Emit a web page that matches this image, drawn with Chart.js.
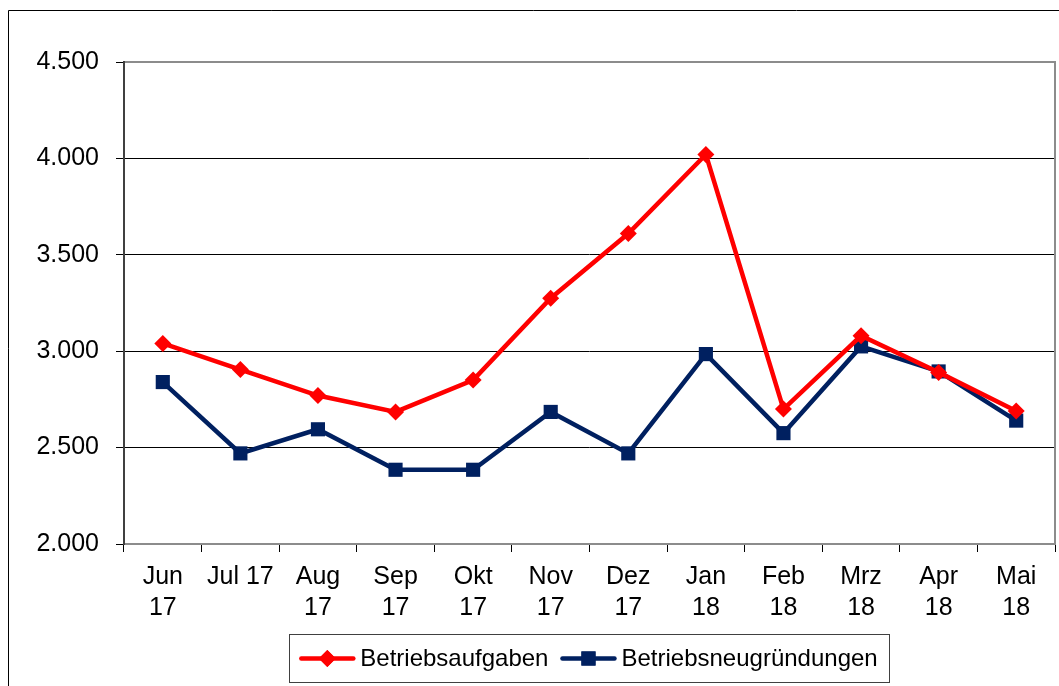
<!DOCTYPE html>
<html>
<head>
<meta charset="utf-8">
<script src="https://cdn.jsdelivr.net/npm/chart.js@4/dist/chart.umd.min.js"></script>
<style>
  html, body { margin: 0; padding: 0; background: #fff; overflow: hidden; }
  #wrap { width: 1059px; height: 686px; position: relative; }
</style>
</head>
<body>
<div id="wrap"><canvas id="chart"></canvas></div>
<script>
// Data
const months = [['Jun', '17'], 'Jul 17', ['Aug', '17'], ['Sep', '17'], ['Okt', '17'], ['Nov', '17'], ['Dez', '17'], ['Jan', '18'], ['Feb', '18'], ['Mrz', '18'], ['Apr', '18'], ['Mai', '18']];
const aufgaben = [3040, 2905, 2770, 2685, 2850, 3275, 3610, 4020, 2700, 3080, 2890, 2690];
const neugruendungen = [2840, 2470, 2595, 2385, 2385, 2685, 2470, 2985, 2575, 3025, 2895, 2640];
const yMin = 2000, yMax = 4500, yStep = 500;

const RED = '#ff0000';
const NAVY = '#002060';
const FONT = "'Liberation Sans', Arial, sans-serif";

const fmtDe = v => String(v).replace(/\B(?=(\d{3})+(?!\d))/g, '.');

// frame, plot border and legend box
const decor = {
    id: 'decor',
    beforeDraw(chart) {
        const c = chart.ctx;
        c.save();
        c.strokeStyle = '#000';
        c.lineWidth = 1;
        c.beginPath();
        c.moveTo(8.5, 686); c.lineTo(8.5, 10.5); c.lineTo(1059, 10.5);
        c.stroke();
        c.restore();
    },
    afterDraw(chart) {
        const c = chart.ctx, a = chart.chartArea;
        c.save();
        // plot border
        c.lineWidth = 2;
        c.strokeStyle = '#8c8c8c';
        c.beginPath();
        c.moveTo(a.left, a.top); c.lineTo(a.right, a.top); c.lineTo(a.right, a.bottom); c.lineTo(a.left, a.bottom);
        c.stroke();
        c.strokeStyle = '#404040';
        c.beginPath();
        c.moveTo(a.left, a.top - 1); c.lineTo(a.left, a.bottom + 1);
        c.stroke();

        // legend
        c.font = '24px ' + FONT;
        const items = [
            { label: chart.data.datasets[0].label, color: RED, style: 'rectRot', r: 8.5 },
            { label: chart.data.datasets[1].label, color: NAVY, style: 'rect', r: 10 }
        ];
        const lineLen = 52, gapText = 7, gapItem = 14, pad = 12;
        let total = 0;
        items.forEach((it, i) => { it.w = c.measureText(it.label).width; total += lineLen + gapText + it.w + (i ? gapItem : 0); });
        const cx = (a.left + a.right) / 2;
        const boxTop = 634.5, boxH = 48, y = boxTop + boxH / 2;
        const boxLeft = Math.round(cx - total / 2 - pad) + 0.5;
        c.lineWidth = 1;
        c.strokeStyle = '#404040';
        c.strokeRect(boxLeft, boxTop, Math.round(total + 2 * pad), boxH);
        let x = cx - total / 2;
        items.forEach((it, i) => {
            if (i) x += gapItem;
            c.strokeStyle = it.color; c.fillStyle = it.color;
            c.lineWidth = 4.5; c.lineCap = 'round';
            c.beginPath(); c.moveTo(x, y); c.lineTo(x + lineLen, y); c.stroke();
            Chart.helpers.drawPoint(c, { pointStyle: it.style, radius: it.r, borderWidth: 0, rotation: 0 }, x + lineLen / 2, y);
            c.fill();
            x += lineLen + gapText;
            c.fillStyle = '#000'; c.textBaseline = 'middle'; c.textAlign = 'left';
            c.fillText(it.label, x, y + 1);
            x += it.w;
        });
        c.restore();
    }
};

new Chart(document.getElementById('chart'), {
    type: 'line',
    data: {
        labels: months,
        datasets: [
            { label: 'Betriebsaufgaben', data: aufgaben, borderColor: RED, backgroundColor: RED, borderWidth: 4.5,
              pointStyle: 'rectRot', pointRadius: 8.5, pointBorderWidth: 0, tension: 0 },
            { label: 'Betriebsneugründungen', data: neugruendungen, borderColor: NAVY, backgroundColor: NAVY, borderWidth: 4.5,
              pointStyle: 'rect', pointRadius: 10, pointBorderWidth: 0, tension: 0 }
        ]
    },
    options: {
        responsive: true, maintainAspectRatio: false, animation: false,
        layout: { autoPadding: false, padding: { left: 0, top: 62, right: 4, bottom: 0 } },
        plugins: { legend: { display: false }, tooltip: { enabled: false } },
        scales: {
            x: {
                offset: true,
                grid: { offset: true, drawOnChartArea: false, drawTicks: true, tickLength: 8, tickColor: '#000', tickWidth: 1 },
                border: { display: false },
                ticks: { color: '#000', font: { family: FONT, size: 25, lineHeight: 1.22 }, padding: 10, maxRotation: 0, autoSkip: false },
                afterFit(s) { s.height = 142; s.paddingLeft = 0; s.paddingRight = 0; }
            },
            y: {
                min: yMin, max: yMax,
                grid: { color: '#000', lineWidth: 1, tickLength: 8, tickColor: '#000' },
                border: { display: false },
                ticks: { stepSize: yStep, color: '#000', font: { family: FONT, size: 25 }, padding: 17, callback: v => fmtDe(v) },
                afterFit(s) { s.width = 124; }
            }
        }
    },
    plugins: [decor]
});
</script>
</body>
</html>
